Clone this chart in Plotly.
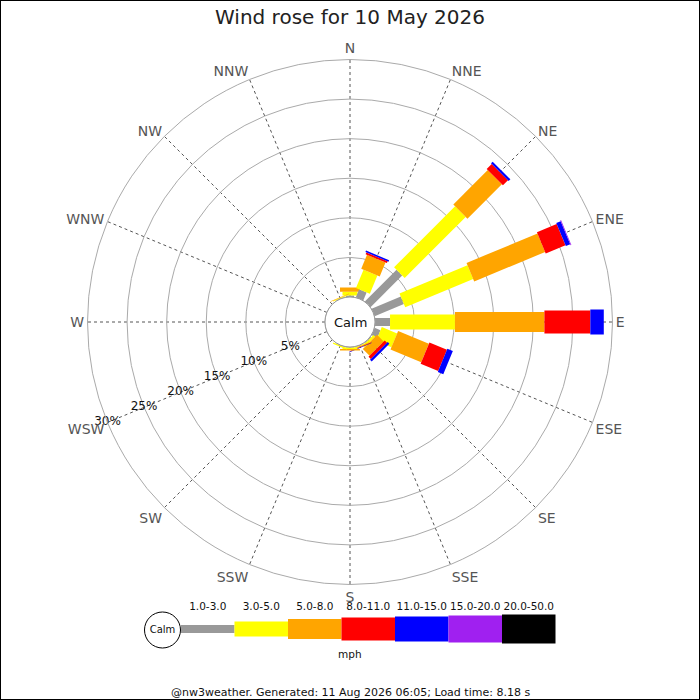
import math
import plotly.graph_objects as go

# compass points, clockwise from north
directions = ['N', 'NNE', 'NE', 'ENE', 'E', 'ESE', 'SE', 'SSE',
              'S', 'SSW', 'SW', 'WSW', 'W', 'WNW', 'NW', 'NNW']
bearings = [i * 22.5 for i in range(16)]

# wind speed bands (mph)
bands = ['1.0-3.0', '3.0-5.0', '5.0-8.0', '8.0-11.0', '11.0-15.0', '15.0-20.0', '20.0-50.0']

# % of the day per direction in each band
#            N     NNE   NE     ENE   E     ESE   SE    SSE   S     SSW   SW WSW W  WNW NW NNW
pct_1_3   = [0.20, 1.10, 5.66,  4.00, 1.90, 0.80, 0.10, 0.05, 0.05, 0.05, 0, 0, 0, 0, 0, 0.05]
pct_3_5   = [0.45, 2.50, 10.90, 9.30, 8.20, 2.10, 0.30, 0.10, 0.20, 0.15, 0, 0, 0, 0, 0, 0.10]
pct_5_8   = [0.55, 1.90, 6.15,  9.70, 11.3, 4.20, 1.20, 0.10, 0.20, 0.00, 0, 0, 0, 0, 0, 0.05]
pct_8_11  = [0.00, 0.25, 0.90,  2.70, 5.80, 2.40, 0.40, 0.05, 0.00, 0.00, 0, 0, 0, 0, 0, 0.00]
pct_11_15 = [0.00, 0.20, 0.30,  0.60, 1.70, 0.75, 0.30, 0.05, 0.00, 0.00, 0, 0, 0, 0, 0, 0.00]
pct_15_20 = [0.00, 0.00, 0.00,  0.10, 0.00, 0.00, 0.00, 0.00, 0.00, 0.00, 0, 0, 0, 0, 0, 0.00]
pct_20_50 = [0.00] * 16

ring_ticks = [5, 10, 15, 20, 25, 30]

band_values = [pct_1_3, pct_3_5, pct_5_8, pct_8_11, pct_11_15, pct_15_20, pct_20_50]
band_colors = ['#999999', '#ffff00', '#ffa500', '#ff0000', '#0000ff', '#a020f0', '#000000']
band_widths = [8, 15, 20, 23, 25, 27, 29]  # bar thickness in px, like jpgraph

FONT = 'DejaVu Sans'
W = H = 700
R_PX = 262.5      # outer ring radius in px
HOLE_PX = 25      # calm circle radius in px
RMAX = 30
k = (R_PX - HOLE_PX) / RMAX   # px per %

dom_x = [0.125, 0.875]
dom_y = [0.165, 0.915]
cx = (dom_x[0] + dom_x[1]) / 2
cy = (dom_y[0] + dom_y[1]) / 2


def rect(bearing, start, end, width):
    # straight-sided bar in polar coords: corners at +-width/2 px off the axis
    h = width / 2
    d_in = HOLE_PX + start * k
    d_out = HOLE_PX + end * k
    rs, ts = [], []
    for d, off in [(d_in, -h), (d_out, -h), (d_out, h), (d_in, h), (d_in, -h)]:
        rs.append((math.hypot(d, off) - HOLE_PX) / k)
        ts.append(bearing + math.degrees(math.atan2(off, d)))
    return rs, ts


fig = go.Figure()

for i, b in enumerate(bearings):
    total = 0
    for vals, col, wid in zip(band_values, band_colors, band_widths):
        v = vals[i]
        if v <= 0:
            continue
        rs, ts = rect(b, total, total + v, wid)
        total += v
        fig.add_trace(go.Scatterpolar(r=rs, theta=ts, mode='lines', fill='toself',
                                      fillcolor=col, line=dict(width=0, color=col),
                                      hoverinfo='skip'))

# percentage labels along the WSW spoke
fig.add_trace(go.Scatterpolar(r=ring_ticks, theta=[247.5] * len(ring_ticks), mode='text',
                              text=[f'{t}%' for t in ring_ticks],
                              textfont=dict(family=FONT, size=12, color='#111111'),
                              hoverinfo='skip', cliponaxis=False))

# legend strip (pixel-like coords on a hidden cartesian axis)
leg_x0 = 181
leg_seg = 53.5
leg_y = 629
starts = [leg_x0 + j * leg_seg for j in range(len(bands))]
fig.add_trace(go.Bar(x=[leg_seg] * len(bands), base=starts, y=[leg_y] * len(bands),
                     width=band_widths, orientation='h', marker=dict(color=band_colors, line=dict(width=0)),
                     xaxis='x', yaxis='y', hoverinfo='skip'))
fig.add_trace(go.Scatter(x=[s + leg_seg / 2 for s in starts], y=[607] * len(bands), mode='text',
                         text=bands, textfont=dict(family=FONT, size=10.5, color='#111111'),
                         hoverinfo='skip', cliponaxis=False))
fig.add_trace(go.Scatter(x=[162.5], y=[630], mode='markers+text', text=['Calm'],
                         textfont=dict(family=FONT, size=10, color='#111111'),
                         marker=dict(size=36, color='white', line=dict(color='black', width=1)),
                         hoverinfo='skip', cliponaxis=False))

fig.update_layout(
    width=W, height=H,
    margin=dict(l=0, r=0, t=0, b=0),
    paper_bgcolor='white', plot_bgcolor='rgba(0,0,0,0)',
    showlegend=False,
    font=dict(family=FONT),
    title=dict(text='Wind rose for 10 May 2026', x=0.5, y=1 - 17 / H, xanchor='center', yanchor='middle',
               font=dict(family=FONT, size=20, color='#222222')),
    polar=dict(
        domain=dict(x=dom_x, y=dom_y),
        hole=HOLE_PX / R_PX,
        bgcolor='white',
        radialaxis=dict(range=[0, RMAX], tickvals=ring_ticks, showticklabels=False, showline=False,
                        ticks='', gridcolor='#aaaaaa', gridwidth=1),
        angularaxis=dict(direction='clockwise', rotation=90, tickmode='array', tickvals=bearings,
                         ticktext=directions, ticks='', showline=True, linecolor='#aaaaaa', linewidth=1,
                         gridcolor='#555555', griddash='dot', gridwidth=1,
                         tickfont=dict(family=FONT, size=14, color='#555555')),
    ),
    xaxis=dict(domain=[0, 1], range=[0, W], visible=False, fixedrange=True),
    yaxis=dict(domain=[0, 0.15], range=[H, H - 0.15 * H], visible=False, fixedrange=True),
    shapes=[
        dict(type='circle', xref='paper', yref='paper',
             x0=cx - HOLE_PX / W, x1=cx + HOLE_PX / W, y0=cy - HOLE_PX / H, y1=cy + HOLE_PX / H,
             line=dict(color='#999999', width=1), fillcolor='white', layer='above'),
        dict(type='rect', xref='paper', yref='paper', x0=0, x1=1, y0=0, y1=1,
             line=dict(color='black', width=2)),
    ],
    annotations=[
        dict(text='Calm', x=cx, y=cy, xref='paper', yref='paper', showarrow=False,
             xanchor='center', yanchor='middle',
             font=dict(family=FONT, size=13, color='#111111')),
        dict(text='mph', x=350 / W, y=1 - 654 / H, xref='paper', yref='paper', showarrow=False,
             xanchor='center', yanchor='middle',
             font=dict(family=FONT, size=10.5, color='#111111')),
        dict(text='@nw3weather. Generated: 11 Aug 2026 06:05; Load time: 8.18 s',
             x=0.5, y=1 - 692 / H, xref='paper', yref='paper', showarrow=False,
             xanchor='center', yanchor='middle',
             font=dict(family=FONT, size=11, color='#111111')),
    ],
)

# drop the browser's default 8px body margin so the chart sits at the page corner
fig.write_html("out.html", config={'displayModeBar': False},
               post_script="document.body.style.margin='0px';")
